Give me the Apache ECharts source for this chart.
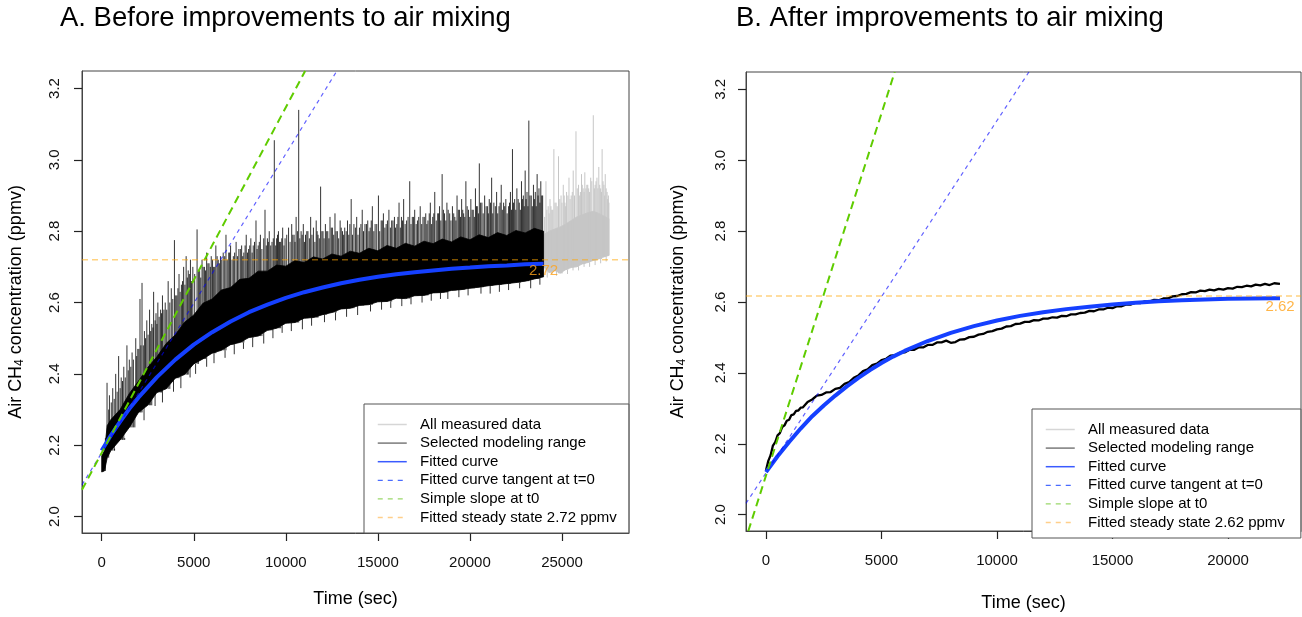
<!DOCTYPE html>
<html><head><meta charset="utf-8">
<script src="https://cdn.jsdelivr.net/npm/echarts@6/dist/echarts.min.js"></script>
<style>html,body{margin:0;padding:0;background:#fff}#c{width:1302px;height:617px}</style>
</head><body><div id="c"></div>
<script>
const FONT = "'Liberation Sans', Arial, Helvetica, sans-serif";
const titleA = 'A. Before improvements to air mixing';
const titleB = 'B. After improvements to air mixing';
const xTicksA = [0, 5000, 10000, 15000, 20000, 25000];
const xTicksB = [0, 5000, 10000, 15000, 20000];
const yTicks = [2.0, 2.2, 2.4, 2.6, 2.8, 3.0, 3.2];
const xRangeA = [-1070, 28640];
const xRangeB = [-866, 23160];
const yRange = [1.954, 3.249];
const legendNames = ['All measured data', 'Selected modeling range', 'Fitted curve',
  'Fitted curve tangent at t=0', 'Simple slope at t0'];
const steadyA = 2.72, steadyB = 2.617;
const endA = 24000, endB = 22250;

// Panel A: selected modeling range (band core + individual spikes)
const tA = [0,150,300,500,1000,1500,2000,2500,3000,3500,4000,4500,5000,5500,6000,6500,7000,7500,8000,8500,9000,9500,10000,10500,11000,11500,12000,12500,13000,13500,14000,14500,15000,15500,16000,16500,17000,17500,18000,18500,19000,19500,20000,20500,21000,21500,22000,22500,23000,23500,24000];
const loA = [2.125,2.128,2.165,2.185,2.215,2.250,2.292,2.312,2.348,2.358,2.388,2.398,2.428,2.442,2.458,2.466,2.482,2.488,2.502,2.506,2.522,2.528,2.542,2.544,2.556,2.558,2.566,2.572,2.582,2.584,2.592,2.594,2.602,2.603,2.612,2.611,2.619,2.620,2.627,2.628,2.634,2.636,2.640,2.643,2.647,2.650,2.653,2.656,2.660,2.666,2.672];
const hiA = [2.170,2.185,2.255,2.272,2.300,2.345,2.380,2.418,2.448,2.485,2.510,2.545,2.565,2.598,2.610,2.635,2.642,2.665,2.668,2.688,2.688,2.705,2.702,2.718,2.712,2.728,2.722,2.736,2.730,2.744,2.738,2.752,2.745,2.760,2.752,2.766,2.758,2.772,2.765,2.778,2.770,2.784,2.776,2.790,2.782,2.796,2.788,2.802,2.795,2.808,2.800];
const spikesA = [[290,2.375],[420,2.34],[600,2.36],[760,2.40],[920,2.45],[1060,2.39],[1200,2.42],[1370,2.48],[1500,2.44],[1650,2.46],[1850,2.50],[1960,2.47],[2080,2.61],[2190,2.655],[2320,2.52],[2450,2.55],[2600,2.58],[2720,2.54],[2820,2.63],[2950,2.57],[3050,2.60],[3200,2.58],[3300,2.62],[3450,2.60],[3610,2.66],[3780,2.64],[3950,2.775],[4080,2.62],[4200,2.68],[4330,2.65],[4450,2.70],[4587,2.73],[4700,2.69],[4820,2.72],[4950,2.70],[5180,2.805],[5320,2.69],[5450,2.72],[5580,2.70],[5700,2.74],[5830,2.71],[5950,2.73],[6080,2.70],[6200,2.76],[6330,2.72],[6450,2.73],[6600,2.74],[6750,2.79],[6900,2.74],[7000,2.76],[7150,2.73],[7300,2.77],[7450,2.75],[7600,2.76],[7720,2.74],[7850,2.79],[7980,2.75],[8100,2.78],[8230,2.76],[8380,2.83],[8500,2.76],[8620,2.79],[8870,2.86],[9000,2.78],[9100,2.80],[9250,2.77],[9375,3.055],[9500,2.78],[9600,2.80],[9720,2.77],[9830,2.81],[9960,2.78],[10150,2.81],[10320,2.82],[10450,2.79],[10560,2.84],[10700,3.14],[10830,2.80],[10950,2.82],[11070,2.79],[11200,2.80],[11350,2.84],[11500,2.81],[11650,2.83],[11750,2.79],[11890,2.925],[12020,2.80],[12150,2.82],[12280,2.80],[12400,2.84],[12530,2.81],[12670,2.85],[12800,2.80],[12950,2.83],[13080,2.80],[13200,2.81],[13350,2.83],[13550,2.89],[13700,2.82],[13850,2.84],[14000,2.81],[14150,2.86],[14300,2.82],[14450,2.83],[14580,2.81],[14700,2.87],[14850,2.82],[15030,2.90],[15180,2.83],[15300,2.85],[15450,2.82],[15600,2.86],[15750,2.83],[15900,2.84],[16030,2.82],[16150,2.88],[16280,2.84],[16400,2.89],[16560,2.83],[16730,2.94],[16870,2.84],[17000,2.86],[17150,2.83],[17300,2.87],[17450,2.84],[17600,2.85],[17720,2.83],[17850,2.88],[17980,2.84],[18090,2.91],[18250,2.85],[18350,2.87],[18490,2.96],[18620,2.85],[18750,2.88],[18900,2.85],[19050,2.87],[19180,2.84],[19300,2.90],[19430,2.86],[19550,2.89],[19660,2.85],[19780,2.94],[19920,2.86],[20050,2.89],[20180,2.86],[20300,2.92],[20400,2.87],[20510,2.99],[20650,2.88],[20800,2.90],[20950,2.87],[21050,2.89],[21180,2.95],[21300,2.88],[21450,2.91],[21580,2.87],[21700,2.93],[21830,2.88],[21950,2.89],[22100,2.87],[22200,2.91],[22310,3.03],[22430,2.89],[22550,2.92],[22680,2.88],[22800,2.94],[22900,2.90],[23000,2.97],[23100,2.91],[23200,3.11],[23330,2.90],[23450,2.93],[23550,2.91],[23650,2.96],[23750,2.92],[23850,2.94],[23950,2.90]];
const fuzzA = [[200,2.22],[380,2.30],[520,2.32],[680,2.33],[840,2.35],[1000,2.36],[1130,2.38],[1280,2.39],[1440,2.41],[1580,2.42],[1720,2.44],[1900,2.45],[2020,2.47],[2130,2.48],[2260,2.48],[2380,2.50],[2520,2.51],[2660,2.52],[2780,2.53],[2900,2.55],[3000,2.54],[3120,2.56],[3250,2.57],[3380,2.58],[3530,2.58],[3700,2.60],[3860,2.61],[4020,2.62],[4140,2.64],[4260,2.63],[4390,2.66],[4520,2.65],[4650,2.67],[4760,2.68],[4880,2.66],[5050,2.68],[5250,2.69],[5380,2.67],[5510,2.70],[5640,2.69],[5770,2.71],[5900,2.70],[6020,2.72],[6140,2.70],[6270,2.73],[6390,2.71],[6520,2.72],[6680,2.73],[6820,2.72],[6950,2.74],[7080,2.72],[7220,2.74],[7380,2.73],[7530,2.75],[7660,2.73],[7790,2.76],[7920,2.74],[8040,2.76],[8170,2.74],[8300,2.77],[8440,2.75],[8560,2.77],[8700,2.75],[8800,2.78],[8940,2.76],[9050,2.77],[9180,2.76],[9320,2.78],[9450,2.76],[9550,2.79],[9660,2.77],[9780,2.78],[9900,2.76],[10050,2.79],[10230,2.77],[10380,2.79],[10500,2.77],[10630,2.80],[10760,2.78],[10890,2.79],[11010,2.77],[11140,2.80],[11280,2.78],[11420,2.79],[11580,2.77],[11700,2.80],[11820,2.78],[11960,2.80],[12080,2.78],[12220,2.80],[12340,2.78],[12470,2.81],[12600,2.79],[12730,2.80],[12870,2.78],[13010,2.81],[13140,2.79],[13280,2.80],[13420,2.79],[13480,2.82],[13620,2.79],[13780,2.81],[13920,2.79],[14080,2.82],[14220,2.80],[14380,2.82],[14520,2.80],[14640,2.83],[14780,2.80],[14940,2.82],[15100,2.80],[15240,2.83],[15380,2.81],[15520,2.83],[15680,2.81],[15820,2.83],[15960,2.81],[16090,2.84],[16220,2.81],[16340,2.83],[16480,2.82],[16640,2.84],[16800,2.82],[16940,2.84],[17080,2.82],[17220,2.84],[17380,2.82],[17520,2.84],[17660,2.82],[17790,2.85],[17920,2.82],[18040,2.85],[18170,2.83],[18300,2.85],[18420,2.83],[18560,2.86],[18690,2.83],[18820,2.86],[18970,2.83],[19120,2.85],[19240,2.83],[19370,2.86],[19490,2.84],[19610,2.86],[19720,2.84],[19850,2.87],[19990,2.84],[20120,2.86],[20240,2.84],[20360,2.87],[20460,2.85],[20580,2.88],[20720,2.85],[20880,2.87],[21000,2.85],[21120,2.88],[21240,2.85],[21380,2.87],[21510,2.85],[21640,2.88],[21760,2.86],[21890,2.87],[22020,2.85],[22150,2.88],[22260,2.86],[22370,2.88],[22490,2.86],[22620,2.89],[22740,2.86],[22850,2.89],[22950,2.87],[23050,2.89],[23150,2.87],[23260,2.90],[23390,2.87],[23500,2.89],[23600,2.87],[23700,2.90],[23800,2.88],[23900,2.90]];
const dipsA = [[700,2.19],[1250,2.22],[1800,2.25],[2300,2.27],[2900,2.31],[3300,2.32],[3900,2.35],[4300,2.36],[4800,2.39],[5100,2.40],[5700,2.42],[6100,2.43],[6700,2.445],[7200,2.455],[7700,2.47],[8200,2.475],[8800,2.485],[9300,2.50],[9800,2.515],[10300,2.52],[10900,2.525],[11400,2.535],[12100,2.545],[12700,2.55],[13300,2.56],[13900,2.565],[14600,2.575],[15200,2.58],[15700,2.585],[16300,2.59],[16800,2.595],[17400,2.60],[17900,2.605],[18400,2.61],[18800,2.61],[19400,2.615],[19900,2.62],[20600,2.625],[21100,2.625],[21600,2.63],[22100,2.635],[22700,2.64],[23300,2.64],[23800,2.65]];

// Panel A: all measured data beyond the selected range
const tGrayA = [24000,24300,24600,24900,25200,25500,25800,26100,26400,26700,27000,27300,27550];
const loGrayA = [2.700,2.684,2.690,2.682,2.692,2.698,2.700,2.708,2.712,2.718,2.722,2.728,2.732];
const hiGrayA = [2.790,2.800,2.806,2.812,2.820,2.830,2.840,2.846,2.852,2.856,2.850,2.842,2.835];
const spikesGrayA = [[24130,2.94],[24250,2.87],[24350,2.89],[24450,2.86],[24560,3.03],[24680,2.88],[24810,3.01],[24950,2.90],[25070,2.93],[25160,2.88],[25250,2.91],[25380,2.95],[25500,2.90],[25610,2.97],[25760,3.08],[25900,2.93],[26000,2.91],[26060,2.96],[26150,2.92],[26240,2.965],[26350,2.93],[26450,2.92],[26560,2.95],[26700,3.125],[26800,2.93],[26900,2.95],[27000,2.98],[27100,2.92],[27180,3.03],[27280,2.93],[27350,2.96],[27450,2.91],[27520,2.90]];
const fuzzGrayA = [[24060,2.84],[24180,2.86],[24300,2.85],[24400,2.87],[24500,2.86],[24620,2.88],[24740,2.87],[24880,2.89],[25000,2.88],[25120,2.90],[25200,2.87],[25320,2.90],[25440,2.89],[25560,2.91],[25680,2.90],[25830,2.92],[25960,2.90],[26100,2.93],[26200,2.91],[26300,2.92],[26400,2.93],[26500,2.91],[26620,2.94],[26760,2.92],[26850,2.94],[26950,2.92],[27050,2.93],[27150,2.91],[27230,2.94],[27320,2.90],[27400,2.92],[27480,2.89],[27550,2.88]];
const dipsGrayA = [[24200,2.67],[24450,2.68],[24700,2.675],[25000,2.685],[25300,2.68],[25600,2.69],[25900,2.69],[26200,2.70],[26500,2.70],[26800,2.705],[27100,2.71],[27400,2.715]];

// Panel A: fitted curve, tangent, simple slope
const fitA = [[0,2.185],[500,2.228],[1000,2.266],[1500,2.302],[2000,2.334],[3000,2.391],[4000,2.440],[5000,2.482],[6000,2.517],[7000,2.547],[8000,2.573],[9000,2.594],[10000,2.613],[11000,2.629],[12000,2.642],[13000,2.654],[14000,2.664],[15000,2.672],[16000,2.679],[17000,2.685],[18000,2.690],[19000,2.695],[20000,2.698],[21000,2.702],[22000,2.704],[23000,2.707],[24000,2.709]];
const tangentA = [[-1070,2.089],[12770,3.249]];
const slopeA = [[-1070,2.075],[11050,3.249]];

// Panel B
const lineB = [[0,2.125],[100,2.152],[200,2.168],[300,2.195],[400,2.205],[500,2.224],[600,2.230],[700,2.247],[800,2.252],[900,2.265],[1000,2.268],[1100,2.281],[1200,2.283],[1300,2.293],[1400,2.294],[1500,2.302],[1600,2.303],[1800,2.318],[2000,2.325],[2200,2.336],[2400,2.338],[2600,2.345],[2800,2.346],[3000,2.355],[3200,2.358],[3400,2.369],[3600,2.374],[3800,2.386],[4000,2.393],[4200,2.405],[4400,2.410],[4600,2.422],[4800,2.426],[5000,2.436],[5200,2.440],[5400,2.449],[5600,2.450],[5800,2.457],[6000,2.458],[6200,2.465],[6400,2.465],[6600,2.472],[6800,2.472],[7000,2.479],[7200,2.479],[7400,2.486],[7600,2.486],[7800,2.491],[8000,2.485],[8200,2.487],[8400,2.494],[8600,2.495],[8800,2.501],[9000,2.502],[9200,2.508],[9400,2.510],[9600,2.516],[9800,2.518],[10000,2.523],[10200,2.525],[10400,2.531],[10600,2.532],[10800,2.538],[11000,2.539],[11200,2.544],[11400,2.544],[11600,2.549],[11800,2.548],[12000,2.553],[12200,2.553],[12400,2.557],[12600,2.556],[12800,2.561],[13000,2.560],[13200,2.565],[13400,2.565],[13600,2.569],[13800,2.570],[14000,2.575],[14200,2.574],[14400,2.579],[14600,2.579],[14800,2.584],[15000,2.583],[15200,2.588],[15400,2.588],[15600,2.593],[15800,2.593],[16000,2.598],[16200,2.597],[16400,2.602],[16600,2.601],[16800,2.606],[17000,2.605],[17200,2.610],[17400,2.610],[17600,2.616],[17800,2.617],[18000,2.622],[18200,2.623],[18400,2.628],[18600,2.627],[18800,2.632],[19000,2.631],[19200,2.635],[19400,2.633],[19600,2.637],[19800,2.635],[20000,2.639],[20200,2.638],[20400,2.643],[20600,2.642],[20800,2.646],[21000,2.644],[21200,2.649],[21400,2.647],[21600,2.651],[21800,2.648],[22000,2.653],[22250,2.651]];
const fitB = [[0,2.120],[500,2.165],[1000,2.205],[1500,2.243],[2000,2.278],[2500,2.308],[3000,2.336],[3500,2.362],[4000,2.386],[4500,2.408],[5000,2.428],[5500,2.446],[6000,2.462],[7000,2.490],[8000,2.513],[9000,2.532],[10000,2.548],[11000,2.561],[12000,2.571],[13000,2.580],[14000,2.587],[15000,2.593],[16000,2.598],[17000,2.602],[18000,2.605],[19000,2.607],[20000,2.609],[21000,2.610],[22000,2.611],[22250,2.611]];
const tangentB = [[-866,2.032],[11380,3.249]];
const slopeB = [[-766,1.954],[5572,3.249]];

const C_BLUE = '#1540ff', C_TAN = 'rgba(0,0,255,0.62)', C_GREEN = '#5fcc00', C_ORANGE = 'rgba(255,165,0,0.5)';

function nearest(t, ts) { let k = 0; for (let i = 1; i < t.length; i++) if (Math.abs(t[i]-ts) < Math.abs(t[k]-ts)) k = i; return k; }
function spikeData(list, t, lo) {
  const out = [];
  list.forEach(([ts, v]) => { const k = nearest(t, ts); out.push([ts, lo[k]], [ts, v], [ts, '-']); });
  return out;
}
function band(name, gi, t, lo, hi, color, z) {
  return { type: 'custom', name, xAxisIndex: gi, yAxisIndex: gi, coordinateSystem: 'cartesian2d',
    data: [[t[0], lo[0]]], encode: { x: 0, y: 1 }, silent: true, z,
    renderItem: (params, api) => {
      const pts = [];
      for (let i = 0; i < t.length; i++) pts.push(api.coord([t[i], hi[i]]));
      for (let i = t.length - 1; i >= 0; i--) pts.push(api.coord([t[i], lo[i]]));
      return { type: 'polygon', shape: { points: pts }, style: { fill: color, stroke: color, lineWidth: 0.8 } };
    } };
}
function line(name, gi, data, color, width, type, z) {
  return { type: 'line', name, xAxisIndex: gi, yAxisIndex: gi, data, symbol: 'none', showSymbol: false,
    silent: true, z, connectNulls: false, animation: false,
    lineStyle: { color, width, type: type || 'solid', cap: 'butt' }, itemStyle: { color } };
}
function label(gi, t, v) {
  return { type: 'scatter', name: 'lbl' + gi, xAxisIndex: gi, yAxisIndex: gi, data: [[t, v]], symbolSize: 1,
    itemStyle: { color: 'rgba(0,0,0,0)' }, silent: true, z: 20,
    label: { show: true, position: 'bottom', distance: 3, formatter: () => v.toFixed(2),
      color: '#ffa31a', fontSize: 15, fontFamily: FONT } };
}
const AXIS_LINE = { show: true, onZero: false, lineStyle: { color: '#444', width: 1 } };
const TICK_STYLE = { color: '#222', width: 1.2 };
function xAxis(gi, range, ticks, gap) {
  return { type: 'value', gridIndex: gi, position: 'bottom', min: range[0], max: range[1], name: 'Time (sec)',
    nameLocation: 'middle', nameGap: gap, nameTextStyle: { fontSize: 18, color: '#000', fontFamily: FONT },
    axisLine: AXIS_LINE, splitLine: { show: false },
    axisTick: { show: true, inside: false, length: 8, customValues: ticks, lineStyle: TICK_STYLE },
    axisLabel: { customValues: ticks, margin: 22, fontSize: 15, color: '#111', fontFamily: FONT, formatter: v => String(v) } };
}
function yAxis(gi, margin, gap) {
  return { type: 'value', gridIndex: gi, position: 'left', min: yRange[0], max: yRange[1],
    name: 'Air CH{sub|4} concentration (ppmv)', nameLocation: 'middle', nameGap: gap,
    nameTextStyle: { fontSize: 18, color: '#000', fontFamily: FONT,
      rich: { sub: { fontSize: 12, color: '#000', fontFamily: FONT, padding: [8, 0, 0, 0] } } },
    axisLine: AXIS_LINE, splitLine: { show: false },
    axisTick: { show: true, inside: false, length: 8, customValues: yTicks, lineStyle: TICK_STYLE },
    axisLabel: { customValues: yTicks, rotate: 90, margin, fontSize: 15, color: '#111', fontFamily: FONT, formatter: v => v.toFixed(1) } };
}
const hidden = { color: 'rgba(0,0,0,0)', opacity: 0, borderWidth: 0 };
function legend(left, top, steadyName, padRight) {
  return { left, top, orient: 'vertical', itemWidth: 29, itemHeight: 14, itemGap: 3.6,
    padding: [13, padRight, 8, 13], backgroundColor: '#fff', borderColor: '#555', borderWidth: 1, borderRadius: 0,
    selectedMode: false, formatter: n => '  ' + n, itemStyle: hidden,
    textStyle: { fontSize: 15, color: '#000', fontFamily: FONT },
    data: [
      { name: legendNames[0], itemStyle: hidden, lineStyle: { color: '#d6d6d6', width: 1.5, type: 'solid' } },
      { name: legendNames[1], itemStyle: hidden, lineStyle: { color: '#7a7a7a', width: 1.5, type: 'solid' } },
      { name: legendNames[2], itemStyle: hidden, lineStyle: { color: '#3a5bff', width: 1.5, type: 'solid' } },
      { name: legendNames[3], itemStyle: hidden, lineStyle: { color: '#4a6bff', width: 1.3, type: [5, 5] } },
      { name: legendNames[4], itemStyle: hidden, lineStyle: { color: '#9ad86a', width: 1.3, type: [5, 5] } },
      { name: steadyName, itemStyle: hidden, lineStyle: { color: '#ffcf8a', width: 1.3, type: [5, 5] } }
    ] };
}

const steadyNameA = 'Fitted steady state ' + steadyA.toFixed(2) + ' ppmv';
const steadyNameB = 'Fitted steady state ' + steadyB.toFixed(2) + ' ppmv';

const chart = echarts.init(document.getElementById('c'), null, { renderer: 'canvas' });
chart.setOption({
  animation: false,
  backgroundColor: '#fff',
  title: [
    { text: titleA, left: 60, top: 4, padding: 0, textStyle: { fontSize: 27.5, fontWeight: 'normal', color: '#000', fontFamily: FONT } },
    { text: titleB, left: 736, top: 4, padding: 0, textStyle: { fontSize: 27.5, fontWeight: 'normal', color: '#000', fontFamily: FONT } }
  ],
  grid: [
    { left: 82, top: 71, width: 547, height: 462, show: true, borderColor: '#444', borderWidth: 1, backgroundColor: 'transparent', containLabel: false },
    { left: 746, top: 72, width: 555, height: 468, show: true, borderColor: '#444', borderWidth: 1, backgroundColor: 'transparent', containLabel: false }
  ],
  xAxis: [xAxis(0, xRangeA, xTicksA, 57), xAxis(1, xRangeB, xTicksB, 63)],
  yAxis: [yAxis(0, 20, 56), yAxis(1, 18, 58)],
  legend: [legend(364, 404, steadyNameA, 12), legend(1032, 409, steadyNameB, 16)],
  series: [
    band('grayBandA', 0, tGrayA, loGrayA, hiGrayA, '#c6c6c6', 1),
    line(legendNames[0], 0, spikeData(spikesGrayA.concat(fuzzGrayA, dipsGrayA), tGrayA, loGrayA), '#c6c6c6', 1, 'solid', 1),
    band('blackBandA', 0, tA, loA, hiA, '#000', 2),
    line(legendNames[1], 0, spikeData(spikesA.concat(fuzzA, dipsA), tA, loA), 'rgba(0,0,0,0.8)', 1, 'solid', 2),
    line(legendNames[2], 0, fitA, C_BLUE, 4, 'solid', 3),
    line(legendNames[3], 0, tangentA, C_TAN, 1.2, [4, 4], 4),
    line(legendNames[4], 0, slopeA, C_GREEN, 2, [8, 5], 4),
    line(steadyNameA, 0, [[xRangeA[0], steadyA], [xRangeA[1], steadyA]], C_ORANGE, 1.6, [6, 4], 5),
    label(0, endA, steadyA),
    line(legendNames[1], 1, lineB, '#000', 2.3, 'solid', 2),
    line(legendNames[2], 1, fitB, C_BLUE, 4, 'solid', 3),
    line(legendNames[3], 1, tangentB, C_TAN, 1.2, [4, 4], 4),
    line(legendNames[4], 1, slopeB, C_GREEN, 2, [8, 5], 4),
    line(steadyNameB, 1, [[xRangeB[0], steadyB], [xRangeB[1], steadyB]], C_ORANGE, 1.6, [6, 4], 5),
    label(1, endB, steadyB)
  ]
});
</script></body></html>
